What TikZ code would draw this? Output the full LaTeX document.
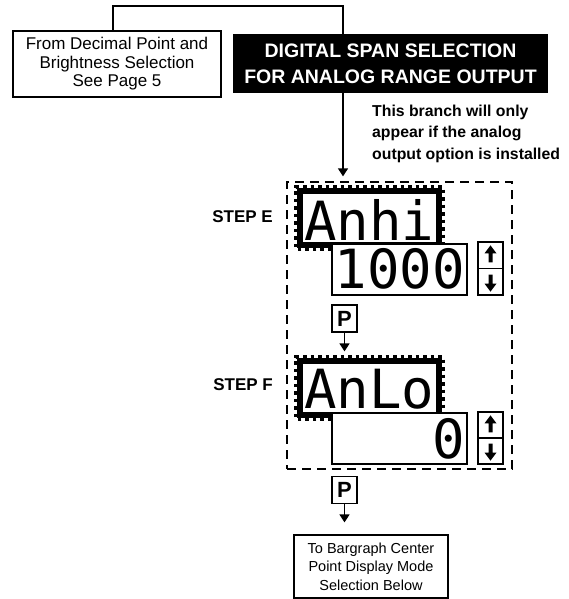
\documentclass[tikz,border=0pt]{standalone}
\usepackage{fontspec}
\setmainfont{Liberation Sans}
\newfontfamily\segfont{DejaVu Sans Mono}
\usetikzlibrary{arrows.meta}
\newcommand\flashframe[3]{%
  \coordinate (ff) at (#1.south west -| #2.west);
  \draw[flashbase] ([yshift=-#3]ff) -- ([xshift=-#3,yshift=-#3]#1.south west)
     -- ([xshift=-#3,yshift=#3]#1.north west) -- ([xshift=#3,yshift=#3]#1.north east)
     -- ([xshift=#3]#1.south east);
}
\newcommand\flashteeth[3]{%
  \coordinate (ff) at (#1.south west -| #2.west);
  \draw[flashteeth] ([yshift=-#3]ff) -- ([xshift=-#3,yshift=-#3]#1.south west)
     -- ([xshift=-#3,yshift=#3]#1.north west) -- ([xshift=#3,yshift=#3]#1.north east)
     -- ([xshift=#3]#1.south east);
}
\begin{document}
\begin{tikzpicture}[x=1pt,y=-1pt,
  box/.style={draw, line width=1.2pt, inner sep=0pt},
  conn/.style={line width=1.3pt},
  arr/.style={conn, -{Triangle[width=10pt,length=8pt]}},
  disp/.style={draw, line width=1.2pt, inner sep=0pt, minimum width=135pt},
  seg/.style={font=\segfont\fontsize{54}{54}\selectfont, inner sep=0pt},
  stepl/.style={font=\bfseries\fontsize{17}{17}\selectfont, inner sep=0pt, anchor=base east},
  keybox/.style={draw, line width=1.2pt, minimum width=25pt, minimum height=27pt, inner sep=0pt, font=\bfseries\fontsize{22}{22}\selectfont},
  udbox/.style={draw, line width=1.3pt, minimum width=25pt, inner sep=0pt},
  flashbase/.style={line width=3.5pt},
  flashteeth/.style={line width=4pt, dash pattern=on 3.5pt off 4pt},
  uparr/.pic={\fill (0,-9) -- (6,-1) -- (2,-1) -- (2,8) -- (-2,8) -- (-2,-1) -- (-6,-1) -- cycle;},
  dnarr/.pic={\fill (0,9) -- (6,1) -- (2,1) -- (2,-8) -- (-2,-8) -- (-2,1) -- (-6,1) -- cycle;},
]
\useasboundingbox (0,0) rectangle (569,599);

% top boxes
\node[box, minimum width=208pt, minimum height=66pt, align=center,
      font=\fontsize{17}{18.5}\selectfont] (from) at (117,64)
      {From Decimal Point and\\Brightness Selection\\See Page 5};
\node[fill=black, text=white, minimum width=315pt, minimum height=59pt, inner sep=0pt,
      align=center, font=\bfseries\fontsize{19.5}{26}\selectfont] (title) at (390.5,63.5)
      {DIGITAL SPAN SELECTION\\FOR ANALOG RANGE OUTPUT};
\node[anchor=north west, align=left, inner sep=0pt,
      font=\bfseries\fontsize{15.8}{21.5}\selectfont] (note) at (372,104.5)
      {This branch will only\\appear if the analog\\output option is installed};

% dashed panel
\node[draw, line width=1.3pt, dash pattern=on 9pt off 6pt, minimum width=225pt,
      minimum height=287pt, inner sep=0pt] (panel) at (399.5,325.5) {};

\coordinate (j) at (343,6);
\draw[conn] ([xshift=-4pt]from.north) |- (j) -- (j |- title.north);
\draw[arr, shorten >=5pt] (j |- title.south) -- (j |- panel.north);

% step E
\node[stepl] (se) at (273,222) {STEP E};
\node[disp, minimum height=50pt] (d1) at (369.5,218) {};
\node[disp, minimum height=51pt] (d2) at (399.5,269.5) {};
\flashframe{d1}{d2}{2.5pt}
\flashteeth{d1}{d2}{5.5pt}
\node[seg, anchor=base west] (t1) at (304,240) {Anhi};
\node[seg, anchor=base east] (t2) at (465,288) {1000};
\node[udbox, minimum height=53pt] (u1) at (490.5,268.5) {};
\draw[line width=1.3pt] (u1.west) -- (u1.east);
\pic at ([yshift=-13pt]u1.north) {uparr};
\pic at ([yshift=13pt]u1.south) {dnarr};
\node[keybox] (k1) at (344.5,318.5) {P};

% step F
\node[stepl] (sf) at (273,390) {STEP F};
\node[disp, minimum height=50pt] (d3) at (369.5,388) {};
\node[disp, minimum height=51pt] (d4) at (399.5,438.5) {};
\flashframe{d3}{d4}{2.5pt}
\flashteeth{d3}{d4}{5.5pt}
\node[seg, anchor=base west] (t3) at (304,408) {AnLo};
\node[seg, anchor=base east] (t4) at (465,458) {0};
\node[udbox, minimum height=52pt] (u2) at (490.5,438) {};
\draw[line width=1.3pt] (u2.west) -- (u2.east);
\pic at ([yshift=-13pt]u2.north) {uparr};
\pic at ([yshift=13pt]u2.south) {dnarr};
\draw[arr, shorten >=11pt] (k1) -- (k1 |- d3.north);

\node[keybox] (k2) at (344.5,490) {P};
\node[box, minimum width=154pt, minimum height=63pt, align=center,
      font=\fontsize{14.5}{18.5}\selectfont] (bot) at (371,566.5)
      {To Bargraph Center\\Point Display Mode\\Selection Below};
\draw[arr, shorten >=12pt] (k2) -- (k2 |- bot.north);
\end{tikzpicture}
\end{document}
